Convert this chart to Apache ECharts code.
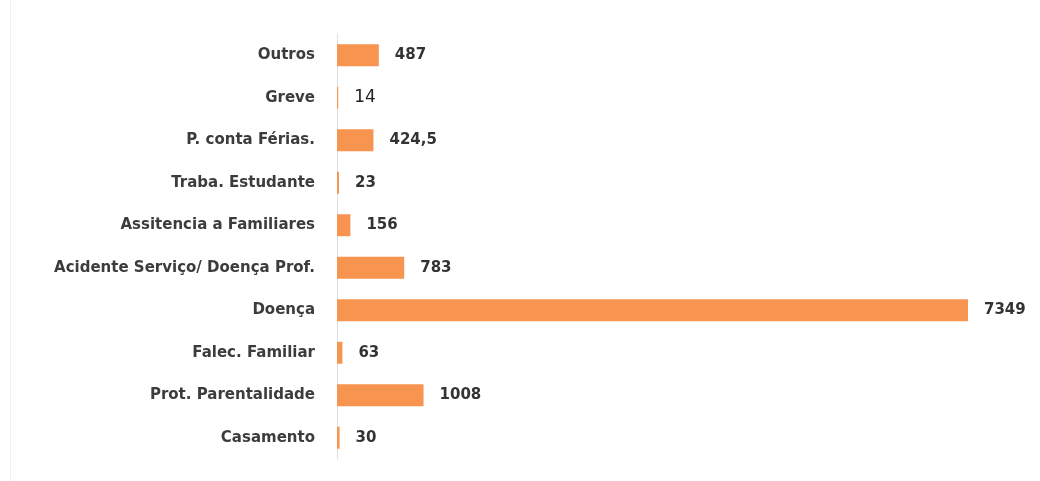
<!DOCTYPE html>
<html>
<head>
<meta charset="utf-8">
<script src="https://cdn.jsdelivr.net/npm/echarts@6/dist/echarts.min.js"></script>
<style>
  html, body { margin: 0; padding: 0; background: #ffffff; }
  #chart { width: 1040px; height: 481px; }
</style>
</head>
<body>
<div id="chart"></div>
<script>
// Absence causes (top to bottom) and days recorded
const categories = [
  'Outros',
  'Greve',
  'P. conta Férias.',
  'Traba. Estudante',
  'Assitencia a Familiares',
  'Acidente Serviço/ Doença Prof.',
  'Doença',
  'Falec. Familiar',
  'Prot. Parentalidade',
  'Casamento'
];
const values = [487, 14, 424.5, 23, 156, 783, 7349, 63, 1008, 30];
const valueLabels = ['487', '14', '424,5', '23', '156', '783', '7349', '63', '1008', '30'];

// The "Greve" value is printed in a larger, lighter face
const seriesData = values.map((v, i) => i === 1
  ? { value: v, label: { fontSize: 17, fontWeight: 'normal', color: '#222' } }
  : v);

const chart = echarts.init(document.getElementById('chart'));
chart.setOption({
  animation: false,
  backgroundColor: '#ffffff',
  graphic: [{
    type: 'line',
    shape: { x1: 10.5, y1: 0, x2: 10.5, y2: 481 },
    style: { stroke: '#f0f0f0', lineWidth: 1 }
  }],
  grid: { left: 337, right: 72, top: 34, bottom: 22, containLabel: false },
  xAxis: {
    type: 'value',
    min: 0,
    max: 7349,
    show: false
  },
  yAxis: {
    type: 'category',
    inverse: true,
    data: categories,
    axisLine: { show: true, lineStyle: { color: '#e0e0e0', width: 1 } },
    axisTick: { show: false },
    axisLabel: {
      margin: 22,
      color: '#3c3c3c',
      fontFamily: 'DejaVu Sans',
      fontWeight: 'bold',
      fontSize: 15
    }
  },
  series: [{
    type: 'bar',
    data: seriesData,
    barWidth: 22,
    itemStyle: { color: '#F79550' },
    label: {
      show: true,
      position: 'right',
      distance: 16,
      color: '#333333',
      fontFamily: 'DejaVu Sans',
      fontWeight: 'bold',
      fontSize: 15,
      formatter: p => valueLabels[p.dataIndex]
    }
  }]
});
</script>
</body>
</html>
